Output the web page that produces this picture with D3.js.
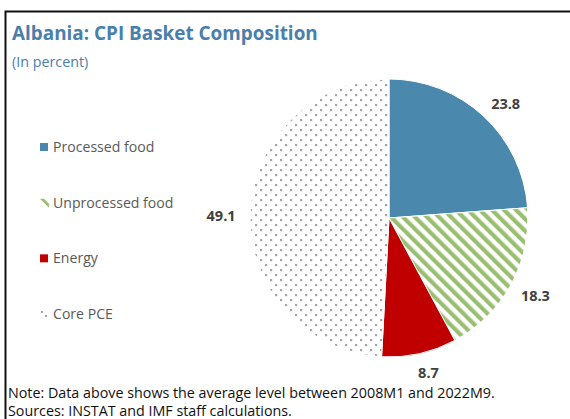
<html>
<head>
<script src="https://cdnjs.cloudflare.com/ajax/libs/d3/7.8.5/d3.min.js"></script>
</head>
<body style="margin: 0; background: #fff;">
</body>
<script>

var categories = ["Processed food", "Unprocessed food", "Energy", "Core PCE"]
var shares = [23.8, 18.3, 8.7, 49.1]
var labelText = ["23.8", "18.3", "8.7", "49.1"]
var notes = ["Note: Data above shows the average level between 2008M1 and 2022M9.",
             "Sources: INSTAT and IMF staff calculations."]

var width = 570, height = 419
var font = "'Open Sans', 'Noto Sans', sans-serif"

function drawChart(){
  var data = categories.map((c, i) => ({name: c, value: shares[i], label: labelText[i]}))

  var svg = d3.select("body").append("svg")
    .attr("width", width)
    .attr("height", height)
    .style("font-family", font)

  var defs = svg.append("defs")

  // hatch for unprocessed food
  var stripes = defs.append("pattern")
    .attr("id", "stripes")
    .attr("patternUnits", "userSpaceOnUse")
    .attr("width", 8.5).attr("height", 8.5)
    .attr("patternTransform", "rotate(-45)")
  stripes.append("rect").attr("width", 8.5).attr("height", 8.5).attr("fill", "#fff")
  stripes.append("rect").attr("width", 4.2).attr("height", 8.5).attr("fill", "#9bbf72")

  // dots for core
  var dots = defs.append("pattern")
    .attr("id", "dots")
    .attr("patternUnits", "userSpaceOnUse")
    .attr("width", 10).attr("height", 10)
  dots.append("rect").attr("width", 10).attr("height", 10).attr("fill", "#fff")
  dots.append("rect").attr("x", 1).attr("y", 1).attr("width", 2.2).attr("height", 2.2).attr("fill", "#a6a6a6")
  dots.append("rect").attr("x", 6).attr("y", 6).attr("width", 2.2).attr("height", 2.2).attr("fill", "#a6a6a6")

  var fills = d3.scaleOrdinal()
    .domain(categories)
    .range(["#4a89ad", "url(#stripes)", "#c00000", "url(#dots)"])

  // frame
  svg.append("path")
    .attr("d", "M5.5," + height + " V11.5 H" + width)
    .attr("fill", "none")
    .attr("stroke", "#111")
    .attr("stroke-width", 2)

  svg.append("text")
    .attr("x", 12).attr("y", 40)
    .attr("font-size", 18.9).attr("font-weight", 700)
    .attr("fill", "#4a7eab")
    .text("Albania: CPI Basket Composition")

  svg.append("text")
    .attr("x", 12).attr("y", 67)
    .attr("font-size", 14.3)
    .attr("fill", "#4a7eab")
    .text("(In percent)")

  // pie
  var cx = 389, cy = 218, r = 139
  var pie = d3.pie().sort(null).value(d => d.value)
  var arc = d3.arc().innerRadius(0).outerRadius(r)
  var arcs = pie(data)

  var g = svg.append("g").attr("transform", `translate(${cx},${cy})`)
  g.selectAll("path")
    .data(arcs)
    .enter()
    .append("path")
    .attr("d", arc)
    .attr("fill", d => fills(d.data.name))
    .attr("stroke", "#fff")
    .attr("stroke-width", 1)

  // value labels outside
  var labelArc = d3.arc().innerRadius(r + 28).outerRadius(r + 28)
  var nudge = [[3, 8], [0, -2], [3, -8], [-1, 2]]
  g.selectAll("text.val")
    .data(arcs)
    .enter()
    .append("text")
    .attr("class", "val")
    .attr("x", (d, i) => labelArc.centroid(d)[0] + nudge[i][0])
    .attr("y", (d, i) => labelArc.centroid(d)[1] + nudge[i][1])
    .attr("dy", "0.35em")
    .attr("text-anchor", "middle")
    .attr("font-size", 14.5).attr("font-weight", 700)
    .attr("fill", "#404040")
    .text(d => d.data.label)

  // legend
  var legendY = d3.scalePoint().domain(categories).range([147, 314])
  var leg = svg.append("g").selectAll("g")
    .data(categories)
    .enter()
    .append("g")
    .attr("transform", d => `translate(40,${legendY(d)})`)

  leg.each(function(d, i){
    var s = d3.select(this)
    if (i == 0 || i == 2) {
      s.append("rect").attr("x", 0).attr("y", -4).attr("width", 8).attr("height", 8)
        .attr("fill", fills(d))
    } else if (i == 1) {
      s.append("path").attr("d", "M0,-4 H4 L9,1 V5 Z").attr("fill", "#9bbf72")
    } else {
      s.append("rect").attr("x", 1).attr("y", -3).attr("width", 2).attr("height", 2).attr("fill", "#a6a6a6")
      s.append("rect").attr("x", 5).attr("y", 1).attr("width", 2).attr("height", 2).attr("fill", "#a6a6a6")
    }
  })

  leg.append("text")
    .attr("x", 13).attr("dy", "0.35em")
    .attr("font-size", 14.1)
    .attr("fill", "#595959")
    .text(d => d)

  svg.append("g").selectAll("text")
    .data(notes)
    .enter()
    .append("text")
    .attr("x", 8)
    .attr("y", (d, i) => 398 + i * 18)
    .attr("font-size", 14.3)
    .attr("fill", "#111")
    .text(d => d)
}

drawChart()
</script>
</html>
